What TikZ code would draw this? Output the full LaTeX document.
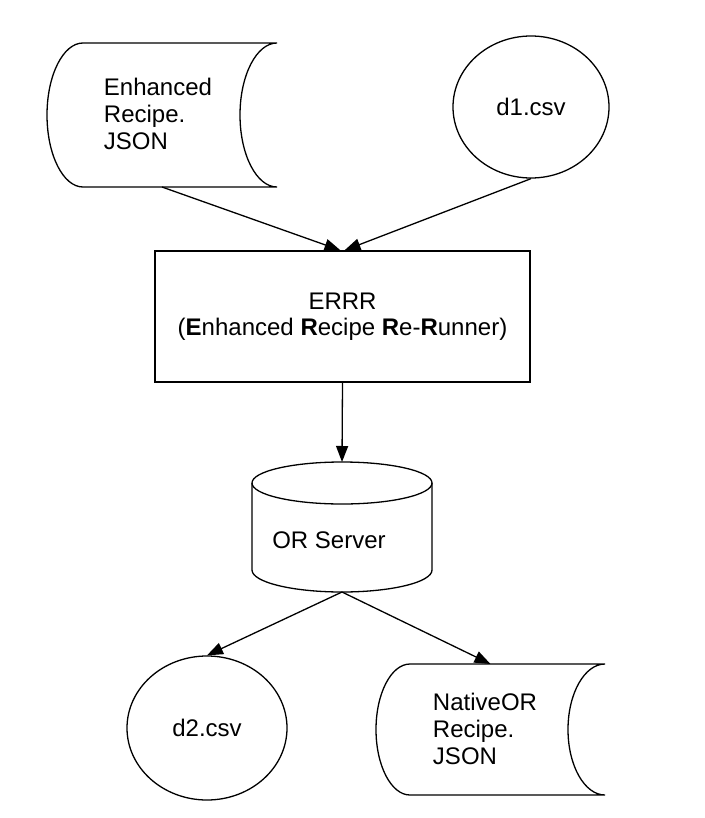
\documentclass[tikz,border=0pt]{standalone}
\usepackage{fontspec}
\setmainfont{Liberation Sans}
\usetikzlibrary{shapes.geometric,arrows.meta}
\tikzset{
  line/.style={line width=1.3pt},
  arr/.style={line, -{Triangle[length=16pt,width=12pt]}},
  txt/.style={font=\fontsize{24}{27}\selectfont, align=left, inner sep=0pt},
  ghost/.style={inner sep=0pt, outer sep=0pt},
  circ/.style={ellipse, draw, line, inner sep=0pt, font=\fontsize{24}{27}\selectfont},
  procbox/.style={draw, line, inner sep=0pt, align=center, font=\fontsize{24}{26.5}\selectfont}
}
\begin{document}
\begin{tikzpicture}[x=1pt,y=1pt]
\useasboundingbox (0,0) rectangle (704,-818);

% Enhanced Recipe.JSON (stored data)
\node[ghost, minimum width=230, minimum height=144] (enh) at (162,-115) {};
\draw[line] (83,-43) -- (277,-43)
  arc[start angle=90, end angle=270, x radius=37, y radius=72]
  -- (83,-187)
  arc[start angle=270, end angle=90, x radius=36, y radius=72] -- cycle;
\node[txt] (enhT) at (158,-114) {Enhanced\\Recipe.\\JSON};

% d1.csv
\node[circ, minimum width=156, minimum height=142] (d1) at (531,-107) {d1.csv};

% ERRR box
\node[procbox, minimum width=375, minimum height=131] (err) at (342.5,-316.5)
  {ERRR\\(\textbf{E}nhanced \textbf{R}ecipe \textbf{R}e-\textbf{R}unner)};

% OR Server (cylinder)
\node[ghost, minimum width=180, minimum height=130] (srv) at (342,-527) {};
\draw[line] (252,-483) -- (252,-570)
  arc[start angle=180, end angle=360, x radius=90, y radius=22] -- (432,-483);
\draw[line] (342,-483) ellipse [x radius=90, y radius=21];
\node[txt] (srvT) at (329,-540) {OR Server};

% d2.csv
\node[circ, minimum width=160, minimum height=144] (d2) at (207,-728) {d2.csv};

% NativeOR Recipe.JSON (stored data)
\node[ghost, minimum width=229, minimum height=131] (nat) at (490.5,-729.5) {};
\draw[line] (410,-664) -- (605,-664)
  arc[start angle=90, end angle=270, x radius=37, y radius=65.5]
  -- (410,-795)
  arc[start angle=270, end angle=90, x radius=34, y radius=65.5] -- cycle;
\node[txt] (natT) at (485,-729) {NativeOR\\Recipe.\\JSON};

% connectors
\draw[arr] (enh.south) -- ([xshift=-2pt]err.north);
\draw[arr] (d1.south) -- ([xshift=2pt]err.north);
\draw[arr] (err.south) -- (srv.north);
\draw[arr] (srv.south) -- (d2.north);
\draw[arr] (srv.south) -- (nat.north);
\end{tikzpicture}
\end{document}
